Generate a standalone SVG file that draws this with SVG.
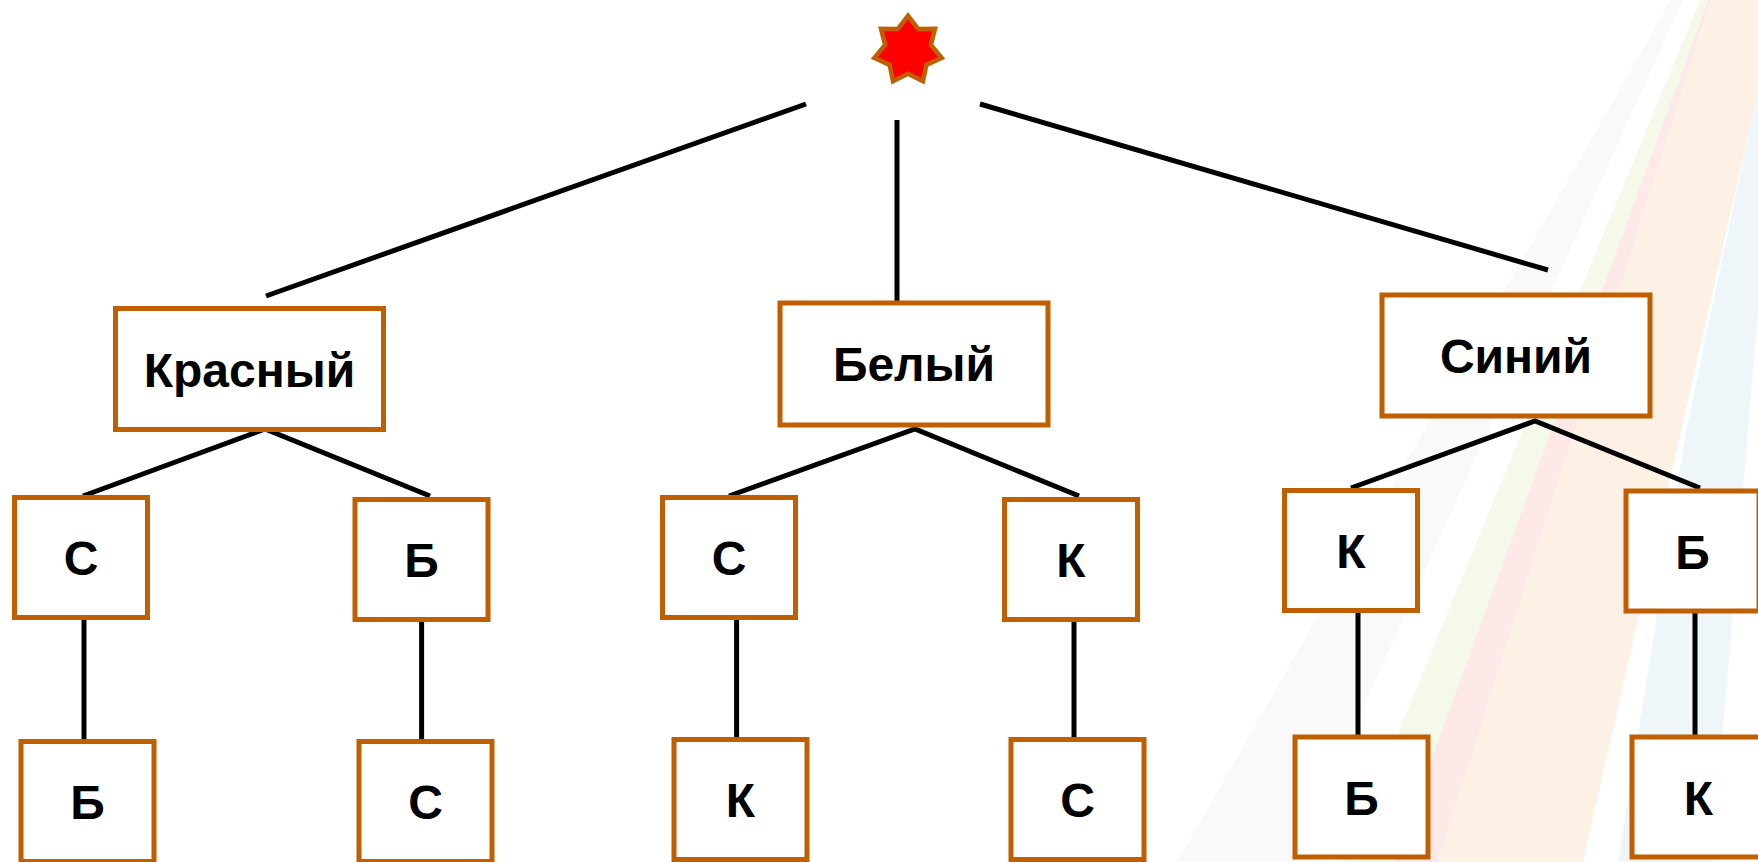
<svg xmlns="http://www.w3.org/2000/svg" width="1758" height="862" viewBox="0 0 1758 862">
<style>
.box{fill:#ffffff;stroke:#BF5F00;stroke-width:5}
.lbl{font-family:"Liberation Sans",Arial,sans-serif;font-weight:bold;font-size:48px;fill:#000000;text-anchor:middle}
.con{stroke:#000000;stroke-width:5;fill:none}
</style>
<g id="background">
<polygon points="1671,0 1683,0 1293,862 1177,862" fill="#f9f9f9"/>
<polygon points="1700,0 1708,0 1394,862 1345,862" fill="#f4f9ea"/>
<polygon points="1708,0 1711,0 1438,862 1394,862" fill="#fde9e7"/>
<polygon points="1711,0 1758,0 1758,92 1681,431 1583,862 1438,862" fill="#fdf1e5"/>
<polygon points="1758,90 1758,313 1748,431 1712,862 1618,862 1686,431" fill="#eef6fa"/>
</g>
<g id="connectors">
<line class="con" x1="806" y1="104" x2="266" y2="296"/>
<line class="con" x1="897" y1="120" x2="897" y2="301"/>
<line class="con" x1="980" y1="104" x2="1548" y2="270"/>
<polyline class="con" points="83,496 265,429 430,496"/>
<polyline class="con" points="729,496 915,429 1079,496"/>
<polyline class="con" points="1351,488 1535,421 1700,488"/>
<line class="con" x1="84" y1="617" x2="84" y2="742"/>
<line class="con" x1="421.6" y1="619" x2="421.6" y2="742"/>
<line class="con" x1="736.6" y1="617" x2="736.6" y2="740"/>
<line class="con" x1="1074" y1="619" x2="1074" y2="740"/>
<line class="con" x1="1358" y1="610" x2="1358" y2="737"/>
<line class="con" x1="1695" y1="611" x2="1695" y2="737"/>
</g>
<g id="star">
<polygon points="908,15.7 918.2,29.03 934.97,28.69 930.91,44.97 941.63,57.87 926.37,64.85 922.97,81.28 908,73.7 893.03,81.28 889.63,64.85 874.37,57.87 885.09,44.97 881.03,28.69 897.8,29.03" fill="#ff0000" stroke="#BF5F00" stroke-width="4.5"/>
</g>
<g id="n-krasny"><rect class="box" x="115.5" y="308.5" width="268" height="121"/><text class="lbl" x="249.5" y="387">Красный</text></g>
<g id="n-bely"><rect class="box" x="780" y="303" width="268" height="122"/><text class="lbl" x="914" y="381">Белый</text></g>
<g id="n-siny"><rect class="box" x="1382" y="295" width="268" height="121"/><text class="lbl" x="1516" y="373">Синий</text></g>
<g id="n-s1"><rect class="box" x="14.5" y="497.5" width="133" height="120"/><text class="lbl" x="81" y="575">С</text></g>
<g id="n-b1"><rect class="box" x="355" y="499.5" width="133" height="120"/><text class="lbl" x="421.5" y="577">Б</text></g>
<g id="n-s2"><rect class="box" x="662.5" y="497.5" width="133" height="120"/><text class="lbl" x="729" y="575">С</text></g>
<g id="n-k1"><rect class="box" x="1004.5" y="499.5" width="133" height="120"/><text class="lbl" x="1071" y="577">К</text></g>
<g id="n-k2"><rect class="box" x="1284.5" y="490.5" width="133" height="120"/><text class="lbl" x="1351" y="568">К</text></g>
<g id="n-b2"><rect class="box" x="1626" y="491" width="133" height="120"/><text class="lbl" x="1692.5" y="568.5">Б</text></g>
<g id="n-b3"><rect class="box" x="21" y="741.5" width="133" height="120"/><text class="lbl" x="87.5" y="819">Б</text></g>
<g id="n-s3"><rect class="box" x="359" y="741.5" width="133" height="120"/><text class="lbl" x="425.5" y="819">С</text></g>
<g id="n-k3"><rect class="box" x="674" y="739.5" width="133" height="120"/><text class="lbl" x="740.5" y="817">К</text></g>
<g id="n-s4"><rect class="box" x="1011" y="739.5" width="133" height="120"/><text class="lbl" x="1077.5" y="817">С</text></g>
<g id="n-b4"><rect class="box" x="1295" y="737" width="133" height="120"/><text class="lbl" x="1361.5" y="814.5">Б</text></g>
<g id="n-k4"><rect class="box" x="1632" y="737" width="133" height="120"/><text class="lbl" x="1698.5" y="814.5">К</text></g>
</svg>
